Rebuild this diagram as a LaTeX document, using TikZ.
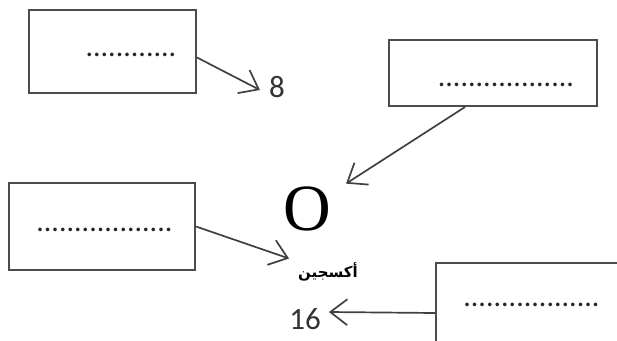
\documentclass[tikz,border=0pt]{standalone}
\usepackage{fontspec}
\setmainfont{Carlito}
\newfontfamily\arabicfont[Script=Arabic]{DejaVu Sans}
\newfontfamily\letterfont{Liberation Serif}
\TeXXeTstate=1
\usetikzlibrary{arrows.meta}

\begin{document}
\begin{tikzpicture}[
  x=1pt, y=-1pt,
  box/.style={draw=black!70, line width=2pt, rectangle, inner sep=0pt},
  dots/.style={font=\fontsize{30}{30}\selectfont, text=black!85, inner sep=0pt},
  numlabel/.style={font=\fontsize{31}{31}\selectfont, text=black!80, inner sep=0pt},
  arrow/.style={-{Straight Barb[length=17pt, width=26pt]}, line width=1.7pt, draw=black!75}
]
\useasboundingbox (0,0) rectangle (617,340);
\clip (0,0) rectangle (617,340);

% Boxes to fill in
\node[box, minimum width=167pt, minimum height=83pt] (boxA) at (112.5,51.5) {};
\node[dots] (dotsA) at (131,55) {............};
\node[box, minimum width=208pt, minimum height=66pt] (boxB) at (493,73) {};
\node[dots] (dotsB) at (506,85) {..................};
\node[box, minimum width=186pt, minimum height=87pt] (boxC) at (102,226.5) {};
\node[dots] (dotsC) at (104.5,230) {..................};
\node[box, anchor=north west, minimum width=220pt, minimum height=110pt] (boxD) at (435,262) {};
\node[dots] (dotsD) at (531.5,305) {..................};

% Element and its numbers
\node[font=\letterfont\fontsize{66}{66}\selectfont, inner sep=0pt] (oxygen) at (307,209) {O};
\node[font=\arabicfont\bfseries\fontsize{15}{15}\selectfont, inner sep=0pt] (oxyname) at (328,272) {\beginR أكسجين\endR};
\node[numlabel] (eight) at (277,87) {8};
\node[numlabel] (sixteen) at (305,319) {16};

% Arrows
\draw[arrow] ([yshift=-6pt]boxA.east) -- ([xshift=-9pt,yshift=-3pt]eight.west);
\draw[arrow] ([xshift=-28pt]boxB.south) -- ([xshift=15pt,yshift=3pt]oxygen.north east);
\draw[arrow] (boxC.east) -- ([xshift=-9pt,yshift=4pt]oxyname.north west);
\draw[arrow] ([yshift=5pt]boxD.west) -- ([xshift=8pt,yshift=7pt]sixteen.east);

\end{tikzpicture}
\end{document}
